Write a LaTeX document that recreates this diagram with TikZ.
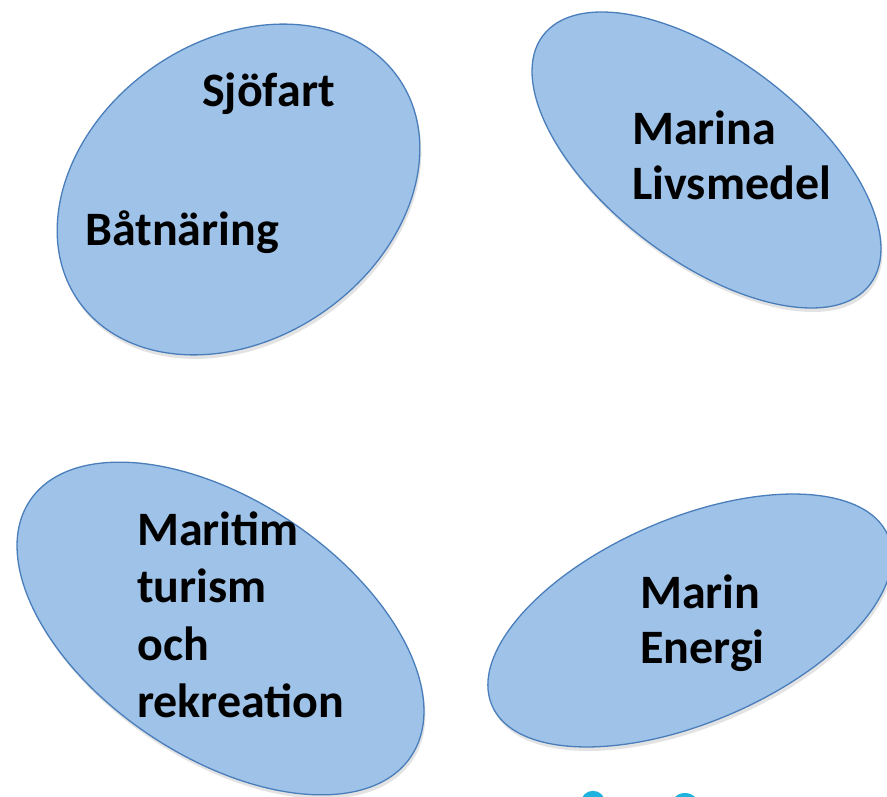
\documentclass[tikz,border=0pt]{standalone}
\usepackage{fontspec}
\setmainfont{Carlito}
\usetikzlibrary{shapes.geometric,shadows}
\definecolor{blobfill}{RGB}{158,194,232}
\definecolor{blobline}{RGB}{74,126,187}
\definecolor{logocyan}{RGB}{30,178,222}
\definecolor{logogreen}{RGB}{190,215,90}
\tikzset{
  blob/.style={ellipse, draw=blobline, fill=blobfill, line width=1.3pt, inner sep=0pt,
    drop shadow={opacity=0.22, shadow xshift=1.5pt, shadow yshift=-4pt}},
  lbl/.style={anchor=base west, inner sep=0pt, font=\fontsize{48}{56}\selectfont\bfseries},
}
\begin{document}
\begin{tikzpicture}[x=1pt,y=-1pt]
\clip (0,0) rectangle (887,797);
\fill[white] (0,0) rectangle (887,797);
% ellipses
\node[blob, minimum width=390pt, minimum height=298pt, rotate=34.8] (e1) at (238.5,189.5) {};
\node[blob, minimum width=411pt, minimum height=201pt, rotate=-37.3] (e2) at (706.5,160) {};
\node[blob, minimum width=459pt, minimum height=256pt, rotate=-33.9] (e3) at (220.5,628.5) {};
\node[blob, minimum width=431pt, minimum height=204pt, rotate=23.2] (e4) at (690,620.5) {};
% labels
\node[lbl] (t1) at (202,107) {Sjöfart};
\node[lbl] (t2) at (85,245) {Båtnäring};
\node[lbl] (t3) at (632,145) {Marina};
\node[lbl] (t4) at (632,200) {Livsmedel};
\node[lbl] (t5) at (137,545) {Maritim};
\node[lbl] (t6) at (137,602) {turism};
\node[lbl] (t7) at (137,660) {och};
\node[lbl] (t8) at (137,717) {rekreation};
\node[lbl] (t9) at (640,608) {Marin};
\node[lbl] (t10) at (640,663) {Energi};
% partial logo at bottom edge
\fill[logocyan] (593,803) circle (12.2);
\fill[logogreen] (594,806) circle (6);
\fill[logocyan] (685,807.5) circle (14.5);
\end{tikzpicture}
\end{document}
